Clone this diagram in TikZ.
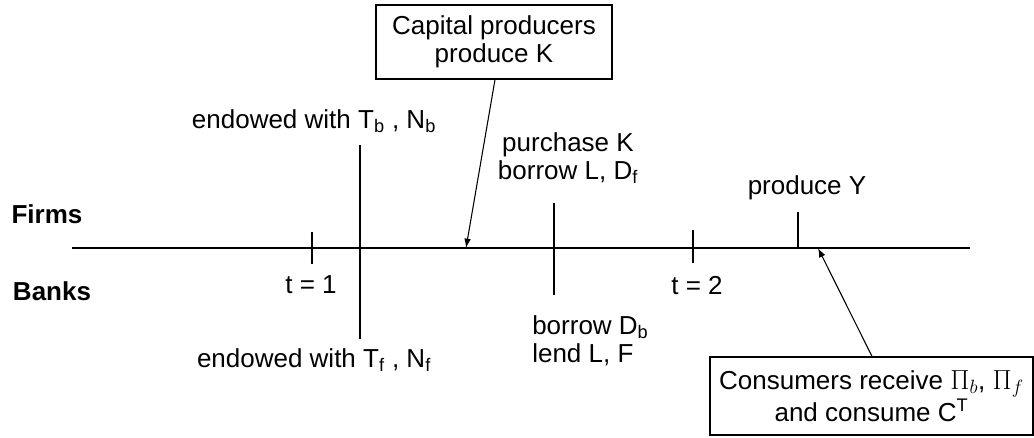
\documentclass[tikz,border=0pt]{standalone}
\usepackage{fontspec}
\setmainfont{Liberation Sans}
\usetikzlibrary{arrows.meta}
\begin{document}
\begin{tikzpicture}[x=0.75pt,y=-0.75pt,
  lbl/.style={font=\fontsize{19.5}{21}\selectfont, inner sep=0pt, align=center},
  bx/.style={draw, line width=0.9pt},
  ln/.style={line width=1.1pt},
  arr/.style={line width=0.8pt, -{Latex[length=7pt,width=5pt]}}]
\useasboundingbox (0,0) rectangle (1034,437);
% main time line
\coordinate (L0) at (72,248);
\coordinate (L1) at (970,248);
\draw[ln] (L0) -- (L1);
% row labels
\node[lbl, font=\fontsize{19.5}{21}\selectfont\bfseries] (firms) at (47,214) {Firms};
\node[lbl, font=\fontsize{19.5}{21}\selectfont\bfseries] (banks) at (52,291) {Banks};
% t=1 tick
\coordinate (t1a) at (312,232); \coordinate (t1b) at (312,264);
\draw[ln] (t1a) -- (t1b);
\node[lbl] (t1) at (311,285) {t = 1};
% endowment line
\coordinate (ea) at (360,145); \coordinate (eb) at (360,339);
\draw[ln] (ea) -- (eb);
\node[lbl] (endb) at (314,121) {endowed with T\textsubscript{b} , N\textsubscript{b}};
\node[lbl] (endf) at (314,360) {endowed with T\textsubscript{f} , N\textsubscript{f}};
% capital producers
\node[bx, minimum width=236*0.75pt, minimum height=74*0.75pt, inner sep=0pt] (capbox) at (494,42) {};
\node[lbl] (cap) at (capbox.center) {Capital producers\\produce K};
\coordinate (capt) at (466,248);
\draw[arr] (capbox.south -| 495,0) -- (capt);
% purchase line
\coordinate (pa) at (554,203); \coordinate (pb) at (554,295);
\draw[ln] (pa) -- (pb);
\node[lbl] (purch) at (568,158) {purchase K\\borrow L, D\textsubscript{f}};
\node[lbl, align=left, anchor=west] (bor) at (532,341) {borrow D\textsubscript{b}\\lend L, F};
% t=2 tick
\coordinate (t2a) at (693,230); \coordinate (t2b) at (693,263);
\draw[ln] (t2a) -- (t2b);
\node[lbl] (t2) at (697,286) {t = 2};
% produce Y
\coordinate (ya) at (798,212); \coordinate (yb) at (798,248);
\draw[ln] (ya) -- (yb);
\node[lbl] (prody) at (807,188) {produce Y};
% consumers
\node[bx, minimum width=323*0.75pt, minimum height=78*0.75pt, inner sep=0pt] (consbox) at (871.5,396) {};
\node[lbl] (cons) at (consbox.center) {Consumers receive $\Pi_b$, $\Pi_f$\\and consume C\textsuperscript{T}};
\coordinate (consb) at (818,248);
\draw[arr] (consbox.north -| 872,0) -- (consb);
\end{tikzpicture}
\end{document}
